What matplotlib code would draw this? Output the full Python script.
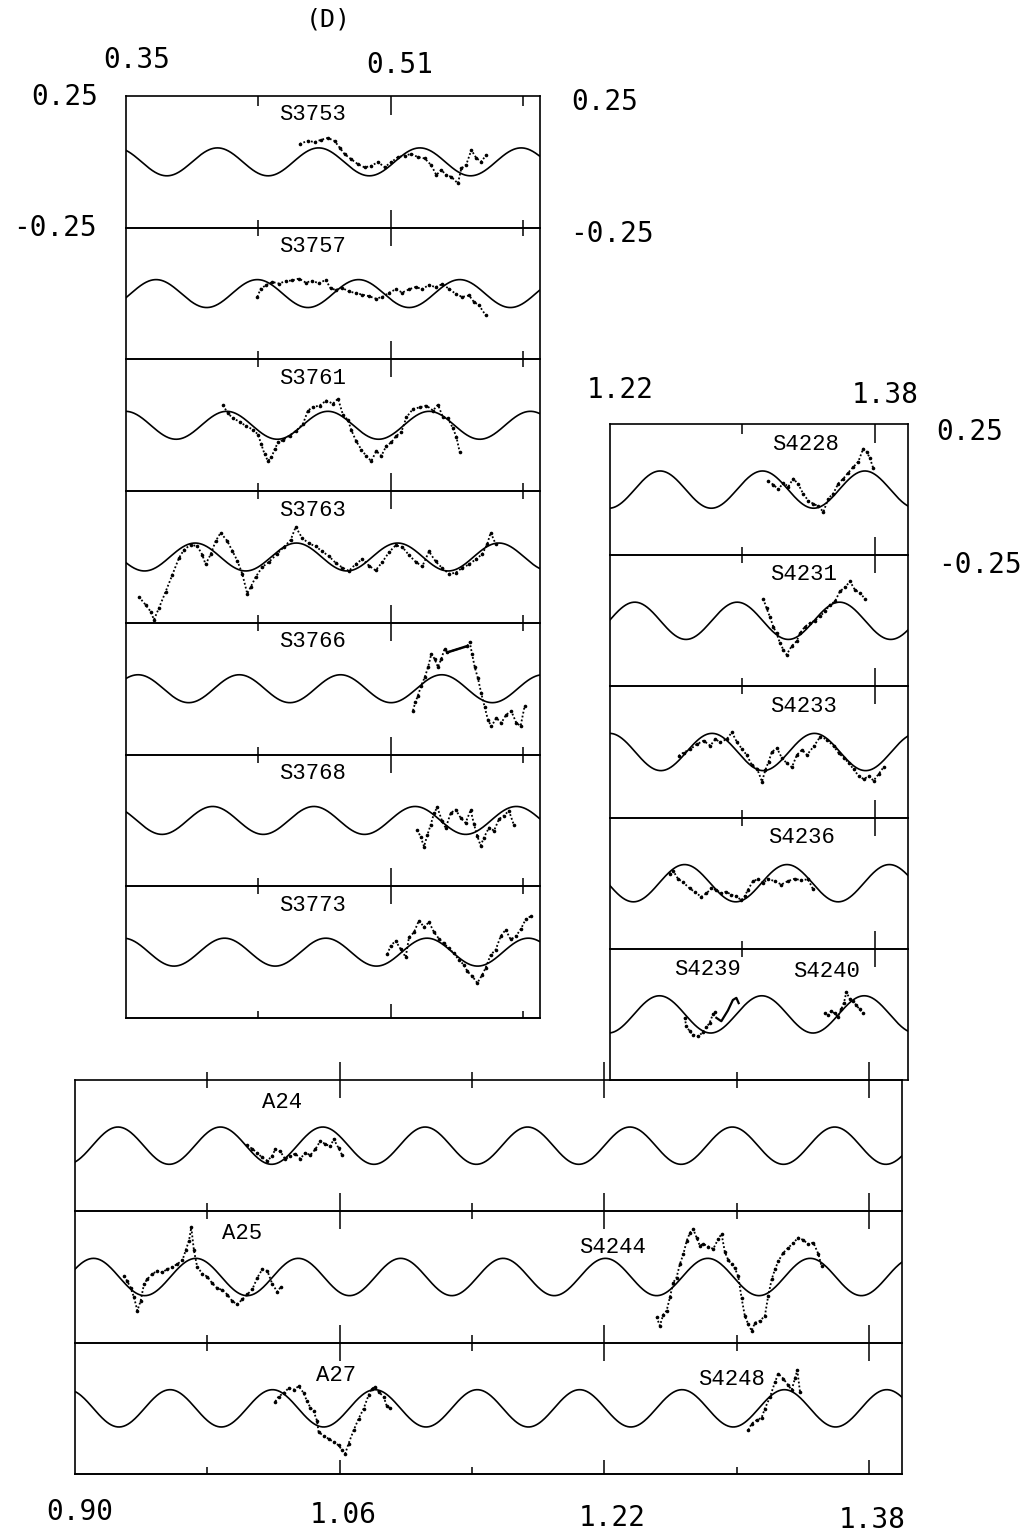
# Tide-record strips (D): fitted wave vs observed points, three blocks of strips

import numpy as np
import matplotlib.pyplot as plt

W, H = 1026, 1533

# fitted wave: one period per block, one phase (x of a crest) per strip
PERIOD_UPPER = 0.0612
PERIOD_LOWER = 0.0619
AMP_UPPER = 0.053
AMP_LOWER = 0.071

# ---------------- upper-left block, x 0.35 - 0.60 ----------------
s3753_x = [0.4550, 0.4600, 0.4640, 0.4681, 0.4721, 0.4761, 0.4792, 0.4822, 0.4862, 0.4902,
           0.4943, 0.4983, 0.5023, 0.5064, 0.5104, 0.5144, 0.5185, 0.5225, 0.5265, 0.5306,
           0.5346, 0.5376, 0.5406, 0.5437, 0.5467, 0.5507, 0.5527, 0.5557, 0.5588, 0.5618,
           0.5648, 0.5678]
s3753_y = [0.068, 0.080, 0.075, 0.084, 0.091, 0.079, 0.054, 0.029, 0.010, -0.009,
           -0.021, -0.015, -0.001, -0.020, -0.001, 0.018, 0.024, 0.030, 0.018, 0.013,
           -0.013, -0.050, -0.031, -0.050, -0.057, -0.082, -0.025, -0.011, 0.045, 0.014,
           0.001, 0.026]

s3757_x = [0.4294, 0.4314, 0.4344, 0.4385, 0.4425, 0.4465, 0.4505, 0.4546, 0.4586, 0.4626,
           0.4667, 0.4707, 0.4737, 0.4767, 0.4808, 0.4848, 0.4888, 0.4929, 0.4969, 0.5009,
           0.5050, 0.5090, 0.5130, 0.5171, 0.5211, 0.5251, 0.5291, 0.5332, 0.5372, 0.5412,
           0.5453, 0.5493, 0.5533, 0.5574, 0.5604, 0.5634, 0.5674]
s3757_y = [-0.013, 0.018, 0.031, 0.044, 0.038, 0.047, 0.050, 0.057, 0.042, 0.048,
           0.039, 0.052, 0.020, 0.014, 0.021, 0.008, 0.002, -0.004, -0.010, -0.019,
           -0.013, 0.003, 0.016, 0.004, 0.016, 0.025, 0.017, 0.033, 0.024, 0.036,
           0.018, -0.001, -0.013, -0.007, -0.032, -0.044, -0.082]

s3761_x = [0.4086, 0.4117, 0.4147, 0.4187, 0.4227, 0.4268, 0.4298, 0.4318, 0.4338, 0.4358,
           0.4379, 0.4399, 0.4419, 0.4449, 0.4489, 0.4530, 0.4570, 0.4600, 0.4630, 0.4671,
           0.4711, 0.4751, 0.4782, 0.4812, 0.4842, 0.4862, 0.4892, 0.4923, 0.4953, 0.4983,
           0.5013, 0.5044, 0.5074, 0.5104, 0.5134, 0.5164, 0.5195, 0.5235, 0.5275, 0.5316,
           0.5356, 0.5386, 0.5416, 0.5447, 0.5477, 0.5497, 0.5517]
s3761_y = [0.076, 0.045, 0.026, 0.014, -0.004, -0.016, -0.035, -0.072, -0.110, -0.135,
           -0.122, -0.091, -0.065, -0.056, -0.039, -0.020, 0.005, 0.056, 0.069, 0.075,
           0.094, 0.082, 0.101, 0.039, 0.020, -0.018, -0.061, -0.092, -0.117, -0.136,
           -0.098, -0.116, -0.078, -0.065, -0.040, -0.027, 0.030, 0.062, 0.068, 0.075,
           0.056, 0.078, 0.031, 0.026, -0.012, -0.043, -0.100]

s3763_x = [0.3578, 0.3619, 0.3649, 0.3669, 0.3699, 0.3740, 0.3780, 0.3820, 0.3850, 0.3891,
           0.3931, 0.3961, 0.3981, 0.4012, 0.4042, 0.4072, 0.4112, 0.4143, 0.4173, 0.4203,
           0.4233, 0.4254, 0.4284, 0.4324, 0.4364, 0.4415, 0.4455, 0.4495, 0.4526, 0.4566,
           0.4606, 0.4647, 0.4687, 0.4727, 0.4767, 0.4808, 0.4848, 0.4888, 0.4929, 0.4969,
           0.5009, 0.5050, 0.5090, 0.5130, 0.5171, 0.5211, 0.5251, 0.5291, 0.5332, 0.5372,
           0.5412, 0.5453, 0.5493, 0.5533, 0.5574, 0.5614, 0.5654, 0.5684, 0.5705, 0.5735]
s3763_y = [-0.151, -0.182, -0.207, -0.238, -0.194, -0.131, -0.068, -0.004, 0.027, 0.047,
           0.041, 0.009, -0.028, 0.010, 0.060, 0.092, 0.061, 0.023, -0.014, -0.064,
           -0.139, -0.114, -0.076, -0.038, -0.019, 0.013, 0.038, 0.064, 0.114, 0.071,
           0.052, 0.040, 0.021, 0.003, -0.022, -0.040, -0.053, -0.027, -0.008, -0.033,
           -0.051, -0.019, 0.018, 0.044, 0.038, 0.007, -0.018, -0.036, 0.021, -0.017,
           -0.042, -0.064, -0.060, -0.041, -0.028, -0.009, 0.011, 0.049, 0.093, 0.049]

s3766_x = [0.5235, 0.5249, 0.5265, 0.5285, 0.5306, 0.5326, 0.5346, 0.5366, 0.5386, 0.5406,
           0.5426, 0.5443, 0.5564, 0.5578, 0.5592, 0.5608, 0.5628, 0.5648, 0.5668, 0.5688,
           0.5709, 0.5739, 0.5769, 0.5799, 0.5830, 0.5860, 0.5886, 0.5910]
s3766_y = [-0.083, -0.052, -0.026, 0.012, 0.043, 0.081, 0.132, 0.113, 0.082, 0.113,
           0.151, 0.138, 0.162, 0.177, 0.133, 0.083, 0.039, -0.018, -0.068, -0.118,
           -0.143, -0.111, -0.130, -0.098, -0.086, -0.130, -0.141, -0.066]
s3766_gap_x = [0.5443, 0.5564]   # solid stroke across the gap
s3766_gap_y = [0.138, 0.162]

s3768_x = [0.5261, 0.5281, 0.5302, 0.5322, 0.5342, 0.5362, 0.5382, 0.5412, 0.5433, 0.5463,
           0.5493, 0.5523, 0.5553, 0.5584, 0.5604, 0.5624, 0.5644, 0.5664, 0.5695, 0.5725,
           0.5755, 0.5785, 0.5815, 0.5846]
s3768_y = [-0.036, -0.062, -0.099, -0.055, -0.017, 0.027, 0.050, -0.004, -0.029, 0.028,
           0.041, 0.010, -0.009, 0.039, -0.015, -0.059, -0.096, -0.065, -0.027, -0.039,
           0.005, 0.018, 0.037, -0.019]

s3773_x = [0.5080, 0.5100, 0.5130, 0.5160, 0.5191, 0.5211, 0.5241, 0.5271, 0.5302, 0.5332,
           0.5362, 0.5392, 0.5422, 0.5453, 0.5483, 0.5513, 0.5543, 0.5564, 0.5594, 0.5624,
           0.5654, 0.5674, 0.5705, 0.5735, 0.5765, 0.5795, 0.5826, 0.5856, 0.5886, 0.5916,
           0.5946]
s3773_y = [-0.008, 0.024, 0.043, 0.012, -0.019, 0.056, 0.075, 0.120, 0.095, 0.114,
           0.076, 0.051, 0.033, 0.014, -0.005, -0.030, -0.048, -0.073, -0.092, -0.117,
           -0.086, -0.060, -0.010, 0.009, 0.060, 0.085, 0.048, 0.060, 0.086, 0.124,
           0.136]

# ---------------- right block, x 1.22 - 1.40 ----------------
s4228_x = [1.3157, 1.3187, 1.3218, 1.3248, 1.3278, 1.3308, 1.3338, 1.3369, 1.3399, 1.3429,
           1.3459, 1.3490, 1.3520, 1.3550, 1.3580, 1.3611, 1.3641, 1.3671, 1.3701, 1.3731,
           1.3752, 1.3772, 1.3792]
s4228_y = [0.031, 0.019, 0.001, 0.026, 0.011, 0.042, 0.021, -0.017, -0.042, -0.054,
           -0.063, -0.085, -0.034, -0.015, 0.023, 0.042, 0.065, 0.086, 0.106, 0.156,
           0.144, 0.119, 0.081]

s4231_x = [1.3127, 1.3147, 1.3167, 1.3187, 1.3207, 1.3228, 1.3248, 1.3268, 1.3298, 1.3328,
           1.3349, 1.3379, 1.3409, 1.3439, 1.3469, 1.3500, 1.3530, 1.3560, 1.3590, 1.3621,
           1.3651, 1.3681, 1.3711, 1.3742]
s4231_y = [0.084, 0.047, 0.015, -0.022, -0.048, -0.085, -0.110, -0.129, -0.097, -0.078,
           -0.047, -0.022, -0.009, 0.001, 0.017, 0.036, 0.061, 0.074, 0.112, 0.128,
           0.150, 0.118, 0.106, 0.084]

s4233_x = [1.2615, 1.2645, 1.2686, 1.2726, 1.2766, 1.2806, 1.2837, 1.2867, 1.2907, 1.2937,
           1.2968, 1.2998, 1.3028, 1.3058, 1.3089, 1.3119, 1.3139, 1.3159, 1.3179, 1.3210,
           1.3240, 1.3270, 1.3300, 1.3330, 1.3361, 1.3391, 1.3431, 1.3472, 1.3512, 1.3552,
           1.3582, 1.3613, 1.3643, 1.3673, 1.3703, 1.3733, 1.3764, 1.3794, 1.3824, 1.3854]
s4233_y = [-0.015, -0.002, 0.011, 0.030, 0.043, 0.024, 0.049, 0.037, 0.050, 0.075,
           0.037, 0.012, -0.013, -0.050, -0.063, -0.113, -0.069, -0.037, 0.001, 0.014,
           -0.024, -0.043, -0.058, -0.011, 0.008, -0.011, 0.021, 0.059, 0.047, 0.022,
           -0.003, -0.022, -0.041, -0.066, -0.091, -0.103, -0.093, -0.109, -0.084, -0.058]

s4236_x = [1.2561, 1.2581, 1.2611, 1.2641, 1.2682, 1.2712, 1.2752, 1.2782, 1.2813, 1.2843,
           1.2873, 1.2903, 1.2933, 1.2964, 1.2994, 1.3014, 1.3034, 1.3064, 1.3095, 1.3125,
           1.3155, 1.3195, 1.3236, 1.3276, 1.3316, 1.3357, 1.3397, 1.3427]
s4236_y = [0.035, 0.048, 0.017, 0.004, -0.020, -0.033, -0.052, -0.039, -0.020, -0.026,
           -0.038, -0.032, -0.044, -0.050, -0.065, -0.050, -0.025, 0.007, 0.016, 0.001,
           0.016, 0.008, -0.005, 0.008, 0.017, 0.011, 0.015, -0.022]

s4239_x = [1.2651, 1.2661, 1.2681, 1.2702, 1.2732, 1.2762, 1.2782, 1.2802, 1.2823, 1.2837]
s4239_y = [-0.012, -0.043, -0.064, -0.077, -0.084, -0.068, -0.049, -0.033, 0.002, 0.008]
s4239_hook_x = [1.2843, 1.2873, 1.2913, 1.2943, 1.2964, 1.2978]   # solid stroke
s4239_hook_y = [-0.013, -0.026, 0.015, 0.055, 0.063, 0.043]

s4240_x = [1.3498, 1.3518, 1.3538, 1.3558, 1.3578, 1.3598, 1.3615, 1.3629, 1.3649, 1.3669,
           1.3689, 1.3709, 1.3729]
s4240_y = [0.006, -0.004, 0.013, 0.004, -0.009, 0.019, 0.045, 0.085, 0.060, 0.051,
           0.035, 0.020, 0.005]

# ---------------- bottom block, x 0.90 - 1.40 ----------------
a24_x = [1.0040, 1.0070, 1.0100, 1.0130, 1.0161, 1.0191, 1.0211, 1.0241, 1.0271, 1.0302,
         1.0332, 1.0362, 1.0392, 1.0423, 1.0453, 1.0483, 1.0513, 1.0544, 1.0564, 1.0594,
         1.0614]
a24_y = [0.001, -0.011, -0.027, -0.044, -0.057, -0.041, -0.013, -0.022, -0.051, -0.040,
         -0.030, -0.050, -0.027, -0.036, -0.014, 0.018, 0.006, -0.003, 0.025, -0.010,
         -0.035]

a25_x = [0.9296, 0.9316, 0.9336, 0.9357, 0.9377, 0.9397, 0.9417, 0.9437, 0.9467, 0.9498,
         0.9528, 0.9558, 0.9588, 0.9619, 0.9649, 0.9669, 0.9689, 0.9703, 0.9719, 0.9739,
         0.9770, 0.9800, 0.9830, 0.9860, 0.9891, 0.9921, 0.9951, 0.9981, 1.0012, 1.0042,
         1.0072, 1.0102, 1.0132, 1.0163, 1.0193, 1.0223, 1.0243]
a25_y = [0.003, -0.016, -0.041, -0.078, -0.128, -0.091, -0.027, -0.008, 0.011, 0.024,
         0.018, 0.030, 0.037, 0.050, 0.063, 0.101, 0.138, 0.189, 0.101, 0.038,
         0.013, 0.001, -0.024, -0.043, -0.049, -0.067, -0.092, -0.104, -0.085, -0.066,
         -0.047, -0.003, 0.029, 0.023, -0.027, -0.056, -0.039]

s4244_x = [1.2516, 1.2536, 1.2557, 1.2577, 1.2597, 1.2617, 1.2637, 1.2657, 1.2678, 1.2698,
           1.2718, 1.2738, 1.2758, 1.2778, 1.2798, 1.2829, 1.2859, 1.2889, 1.2909, 1.2929,
           1.2950, 1.2970, 1.2990, 1.3010, 1.3030, 1.3050, 1.3071, 1.3091, 1.3111, 1.3141,
           1.3171, 1.3191, 1.3212, 1.3232, 1.3252, 1.3282, 1.3312, 1.3343, 1.3373, 1.3403,
           1.3433, 1.3464, 1.3494, 1.3514]
s4244_y = [-0.153, -0.185, -0.143, -0.128, -0.077, -0.021, -0.002, 0.049, 0.087, 0.137,
           0.169, 0.182, 0.150, 0.119, 0.126, 0.116, 0.107, 0.145, 0.164, 0.095,
           0.064, 0.049, 0.033, 0.002, -0.080, -0.149, -0.180, -0.205, -0.174, -0.167,
           -0.148, -0.072, -0.009, 0.029, 0.060, 0.092, 0.111, 0.130, 0.150, 0.141,
           0.125, 0.131, 0.088, 0.041]

a27_x = [1.0211, 1.0231, 1.0261, 1.0292, 1.0322, 1.0352, 1.0382, 1.0402, 1.0423, 1.0443,
         1.0463, 1.0473, 1.0503, 1.0533, 1.0564, 1.0594, 1.0614, 1.0634, 1.0654, 1.0685,
         1.0715, 1.0745, 1.0775, 1.0795, 1.0816, 1.0836, 1.0866, 1.0886, 1.0906]
a27_y = [0.026, 0.045, 0.058, 0.077, 0.071, 0.084, 0.059, 0.028, 0.003, -0.012,
         -0.047, -0.091, -0.104, -0.116, -0.128, -0.141, -0.159, -0.172, -0.134, -0.083,
         -0.039, -0.001, 0.050, 0.075, 0.082, 0.063, 0.044, 0.007, 0.001]

s4248_x = [1.3071, 1.3091, 1.3121, 1.3151, 1.3171, 1.3202, 1.3232, 1.3252, 1.3282, 1.3312,
           1.3333, 1.3353, 1.3367, 1.3383]
s4248_y = [-0.083, -0.058, -0.045, -0.036, -0.001, 0.043, 0.100, 0.132, 0.113, 0.088,
           0.070, 0.114, 0.145, 0.064]

# strip contents: (crest phase, data segments, labels (text, x, y))
UPPER = [
    (0.4053, [(s3753_x, s3753_y)], [("S3753", 0.463, 0.178)]),
    (0.3682, [(s3757_x, s3757_y)], [("S3757", 0.463, 0.178)]),
    (0.4109, [(s3761_x, s3761_y)], [("S3761", 0.463, 0.178)]),
    (0.3918, [(s3763_x, s3763_y)], [("S3763", 0.463, 0.178)]),
    (0.4185, [(s3766_x, s3766_y)], [("S3766", 0.463, 0.178)]),
    (0.4024, [(s3768_x, s3768_y)], [("S3768", 0.463, 0.178)]),
    (0.4096, [(s3773_x, s3773_y)], [("S3773", 0.463, 0.178)]),
]
RIGHT = [
    (1.2503, [(s4228_x, s4228_y)], [("S4228", 1.338, 0.172)]),
    (1.2350, [(s4231_x, s4231_y)], [("S4231", 1.337, 0.178)]),
    (1.2817, [(s4233_x, s4233_y)], [("S4233", 1.337, 0.175)]),
    (1.2651, [(s4236_x, s4236_y)], [("S4236", 1.336, 0.175)]),
    (1.2499, [(s4239_x, s4239_y), (s4240_x, s4240_y)],
     [("S4239", 1.279, 0.172), ("S4240", 1.351, 0.165)]),
]
BOTTOM = [
    (0.9260, [(a24_x, a24_y)], [("A24", 1.025, 0.165)]),
    (0.9112, [(a25_x, a25_y), (s4244_x, s4244_y)],
     [("A25", 1.001, 0.165), ("S4244", 1.225, 0.112)]),
    (0.9575, [(a27_x, a27_y), (s4248_x, s4248_y)],
     [("A27", 1.058, 0.125), ("S4248", 1.297, 0.108)]),
]

# axis numbers written round the blocks (text, x px, y px)
AXIS_TEXT = [
    ("0.35", 137, 60), ("0.51", 400, 65),
    ("0.25", 65, 97), ("-0.25", 55, 228), ("0.25", 605, 102), ("-0.25", 612, 234),
    ("1.22", 620, 390), ("1.38", 885, 395), ("0.25", 970, 432), ("-0.25", 980, 565),
    ("0.90", 80, 1512), ("1.06", 343, 1515), ("1.22", 612, 1518), ("1.38", 872, 1520),
]

DOTS = dict(color="k", lw=1.3, ls=(0, (1, 1.2)), marker="o", ms=2.6, mew=0)


def draw_block(fig, box, xlim, major, minor, period, amp, strips, top_cross):
    left, top, width, height = box
    h = height / len(strips)
    axes = []
    for i, (phase, segments, labels) in enumerate(strips):
        ax = fig.add_axes([left / W, 1 - (top + (i + 1) * h) / H, width / W, h / H])
        ax.patch.set_visible(False)
        ax.set_xlim(*xlim)
        ax.set_ylim(-0.25, 0.25)
        ax.set_yticks([])
        for sp in ax.spines.values():
            sp.set_linewidth(1.2)

        # ticks on the strip's upper line; they cross the divider between strips
        ax.set_xticks(major)
        ax.set_xticks(minor, minor=True)
        ax.xaxis.set_ticks_position("top")
        ax.tick_params(axis="x", which="both", labeltop=False, labelbottom=False, width=1.1)
        if i == 0 and not top_cross:
            ax.tick_params(axis="x", which="major", direction="in", length=14)
            ax.tick_params(axis="x", which="minor", direction="in", length=7)
        else:
            ax.tick_params(axis="x", which="major", direction="inout", length=26)
            ax.tick_params(axis="x", which="minor", direction="inout", length=12)

        t = np.linspace(xlim[0], xlim[1], 800)
        ax.plot(t, amp * np.cos(2 * np.pi * (t - phase) / period), color="k", lw=1.2)
        for xs, ys in segments:
            ax.plot(xs, ys, **DOTS)
        for text, lx, ly in labels:
            ax.text(lx, ly, text, family="Liberation Mono", fontsize=16,
                    ha="center", va="center")
        axes.append(ax)
    return axes


def bottom_ticks(ax, major, minor):
    sec = ax.secondary_xaxis("bottom")
    sec.set_xticks(major)
    sec.set_xticks(minor, minor=True)
    sec.tick_params(axis="x", which="both", labelbottom=False, width=1.1, direction="in")
    sec.tick_params(axis="x", which="major", length=10)
    sec.tick_params(axis="x", which="minor", length=5)
    sec.spines["bottom"].set_linewidth(1.2)


fig = plt.figure(figsize=(W / 100, H / 100), dpi=100)
fig.patch.set_facecolor("white")

up = draw_block(fig, (126, 96, 413.5, 922), (0.35, 0.60), [0.51], [0.43, 0.59],
                PERIOD_UPPER, AMP_UPPER, UPPER, top_cross=False)
bottom_ticks(up[-1], [0.51], [0.43, 0.59])
up[4].plot(s3766_gap_x, s3766_gap_y, color="k", lw=1.8)

rt = draw_block(fig, (610, 424, 297.7, 656), (1.22, 1.40), [1.38], [1.30],
                PERIOD_LOWER, AMP_LOWER, RIGHT, top_cross=False)
rt[4].plot(s4239_hook_x, s4239_hook_y, color="k", lw=1.6)

bt = draw_block(fig, (75, 1080, 827, 394), (0.90, 1.40), [1.06, 1.22, 1.38],
                [0.98, 1.14, 1.30], PERIOD_LOWER, AMP_LOWER, BOTTOM, top_cross=True)
bottom_ticks(bt[-1], [1.06, 1.22, 1.38], [0.98, 1.14, 1.30])

fig.text(328 / W, 1 - 20 / H, "(D)", family="DejaVu Sans Mono", fontsize=18,
         ha="center", va="center")
for text, px, py in AXIS_TEXT:
    fig.text(px / W, 1 - py / H, text, family="DejaVu Sans Mono", fontsize=20,
             ha="center", va="center")

fig.savefig("out.png", dpi=100, facecolor="white")
